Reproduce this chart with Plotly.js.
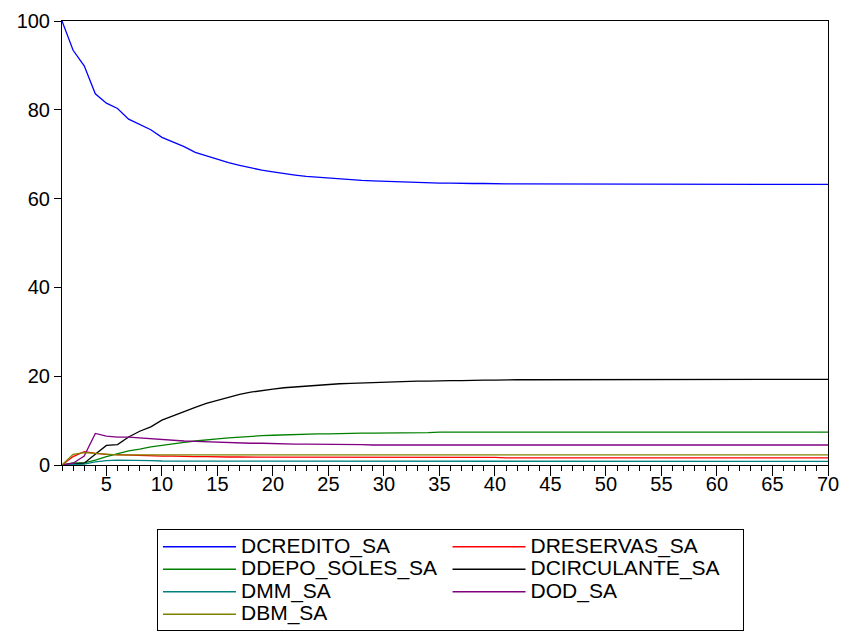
<!DOCTYPE html>
<html>
<head>
<meta charset="utf-8">
<script src="https://cdn.plot.ly/plotly-3.0.1.min.js"></script>
<style>html,body{margin:0;padding:0;background:#fff;}#chart{width:841px;height:632px;}</style>
</head>
<body>
<div id="chart"></div>
<script>
const periods = [1,2,3,4,5,6,7,8,9,10,11,12,13,14,15,16,17,18,19,20,21,22,23,24,25,26,27,28,29,30,31,32,33,34,35,36,37,38,39,40,41,42,43,44,45,46,47,48,49,50,51,52,53,54,55,56,57,58,59,60,61,62,63,64,65,66,67,68,69,70];

const dcredito = [100,93.4,89.9,83.6,81.5,80.3,77.9,76.7,75.5,73.8,
72.7,71.7,70.4,69.6,68.8,68.1,67.5,66.9,66.4,66.0,
65.6,65.3,65.0,64.8,64.6,64.4,64.3,64.1,64.0,63.9,
63.8,63.7,63.7,63.6,63.5,63.5,63.4,63.4,63.4,63.3,
63.3,63.3,63.3,63.3,63.3,63.2,63.2,63.2,63.2,63.2,
63.2,63.2,63.2,63.2,63.2,63.2,63.2,63.2,63.2,63.2,
63.2,63.2,63.2,63.2,63.2,63.2,63.2,63.2,63.2,63.2];

const dreservas = [0,1.9,3.0,2.6,2.4,2.3,2.2,2.2,2.1,2.0,
2.0,1.9,1.9,1.9,1.8,1.8,1.8,1.8,1.8,1.8,
1.7,1.7,1.7,1.7,1.7,1.7,1.7,1.7,1.7,1.7,
1.7,1.7,1.7,1.7,1.7,1.7,1.7,1.7,1.7,1.7,
1.6,1.6,1.6,1.6,1.6,1.6,1.6,1.6,1.6,1.6,
1.6,1.6,1.6,1.6,1.6,1.6,1.6,1.6,1.6,1.6,
1.6,1.6,1.6,1.6,1.6,1.6,1.6,1.6,1.6,1.6];

const ddepo = [0,0.5,0.5,1.1,1.9,2.6,3.2,3.6,4.1,4.4,
4.8,5.1,5.4,5.7,5.9,6.1,6.3,6.4,6.6,6.7,
6.8,6.9,6.9,7.0,7.0,7.1,7.1,7.2,7.2,7.2,
7.3,7.3,7.3,7.3,7.4,7.4,7.4,7.4,7.4,7.4,
7.4,7.4,7.4,7.4,7.4,7.4,7.4,7.4,7.4,7.4,
7.4,7.4,7.4,7.4,7.4,7.4,7.4,7.4,7.4,7.4,
7.4,7.4,7.4,7.4,7.4,7.4,7.4,7.4,7.4,7.4];

const dcirculante = [0,0.2,0.4,2.4,4.4,4.6,6.3,7.6,8.6,10.1,
11.1,12.1,13.0,13.9,14.6,15.3,15.9,16.4,16.8,17.1,
17.4,17.6,17.8,18.0,18.2,18.3,18.4,18.5,18.6,18.7,
18.8,18.8,18.9,18.9,19.0,19.0,19.0,19.1,19.1,19.1,
19.2,19.2,19.2,19.2,19.2,19.2,19.2,19.2,19.2,19.2,
19.2,19.2,19.2,19.2,19.2,19.2,19.2,19.2,19.2,19.2,
19.3,19.3,19.3,19.3,19.3,19.3,19.3,19.3,19.3,19.3];

const dmm = [0,0.1,0.2,0.7,1.0,1.1,1.1,1.0,1.0,0.9,
0.9,0.9,0.9,0.9,0.9,0.9,0.9,0.9,0.9,0.9,
0.8,0.8,0.8,0.8,0.8,0.8,0.8,0.8,0.8,0.8,
0.8,0.8,0.8,0.8,0.8,0.8,0.8,0.8,0.8,0.8,
0.8,0.8,0.8,0.8,0.8,0.8,0.8,0.8,0.8,0.8,
0.8,0.8,0.8,0.8,0.8,0.8,0.8,0.8,0.8,0.8,
0.8,0.8,0.8,0.8,0.8,0.8,0.8,0.8,0.8,0.8];

const dod = [0,0.4,2.0,7.1,6.5,6.3,6.3,6.1,5.9,5.7,
5.5,5.4,5.3,5.2,5.1,5.0,5.0,4.9,4.9,4.8,
4.8,4.7,4.7,4.7,4.6,4.6,4.6,4.6,4.5,4.5,
4.5,4.5,4.5,4.5,4.5,4.5,4.5,4.5,4.5,4.5,
4.5,4.5,4.5,4.5,4.5,4.5,4.5,4.5,4.5,4.5,
4.5,4.5,4.5,4.5,4.5,4.5,4.5,4.5,4.5,4.5,
4.5,4.5,4.5,4.5,4.5,4.5,4.5,4.5,4.5,4.5];

const dbm = [0,2.4,2.8,2.6,2.4,2.3,2.3,2.3,2.3,2.3,
2.3,2.3,2.3,2.3,2.3,2.3,2.3,2.3,2.3,2.3,
2.3,2.3,2.3,2.3,2.3,2.3,2.3,2.3,2.3,2.3,
2.3,2.3,2.3,2.3,2.3,2.3,2.3,2.3,2.3,2.3,
2.3,2.3,2.3,2.3,2.3,2.3,2.3,2.3,2.3,2.3,
2.3,2.3,2.3,2.3,2.3,2.3,2.3,2.3,2.3,2.3,
2.3,2.3,2.3,2.3,2.3,2.3,2.3,2.3,2.3,2.3];

const seriesNames = ["DCREDITO_SA","DRESERVAS_SA","DDEPO_SOLES_SA","DCIRCULANTE_SA","DMM_SA","DOD_SA","DBM_SA"];
const seriesValues = [dcredito, dreservas, ddepo, dcirculante, dmm, dod, dbm];
const seriesColors = ["#0000FF","#FF0000","#008000","#000000","#008080","#800080","#808000"];

const traces = seriesNames.map((n, i) => ({
  type: "scatter", mode: "lines",
  name: '<span style="font-size:21px">' + n + '</span>',
  x: periods, y: seriesValues[i],
  line: {color: seriesColors[i], width: 1.3}
}));

const font = {family: "Arial, Liberation Sans, sans-serif", size: 20, color: "#000"};

const layout = {
  width: 841, height: 632,
  margin: {l: 62, r: 13, t: 21, b: 167, pad: 0, autoexpand: false},
  paper_bgcolor: "#fff", plot_bgcolor: "#fff",
  font: font,
  showlegend: true,
  xaxis: {
    range: [1, 70], tick0: 0, dtick: 5, ticks: "outside", ticklen: 10, tickwidth: 1, tickcolor: "#000",
    ticklabelstandoff: -9,
    showgrid: false, zeroline: false, showline: true, mirror: true, linecolor: "#000", linewidth: 1,
    minor: {tick0: 0, dtick: 1, ticks: "outside", ticklen: 5, tickwidth: 1, tickcolor: "#000", showgrid: false},
    tickfont: font
  },
  yaxis: {
    range: [0, 100], tick0: 0, dtick: 20, ticks: "outside", ticklen: 7, tickwidth: 1, tickcolor: "#000",
    showgrid: false, zeroline: false, showline: true, mirror: true, linecolor: "#000", linewidth: 1,
    tickfont: font
  },
  legend: {
    orientation: "h", xref: "paper", x: 0.124, xanchor: "left",
    yref: "container", y: 0.1622, yanchor: "top",
    bordercolor: "#000", borderwidth: 1, bgcolor: "#fff",
    entrywidth: 0.378, entrywidthmode: "fraction", itemwidth: 73,
    font: {family: "Arial, Liberation Sans, sans-serif", size: 15, color: "#000"},
    traceorder: "normal"
  }
};

Plotly.newPlot("chart", traces, layout, {displayModeBar: false, staticPlot: true});
</script>
</body>
</html>
